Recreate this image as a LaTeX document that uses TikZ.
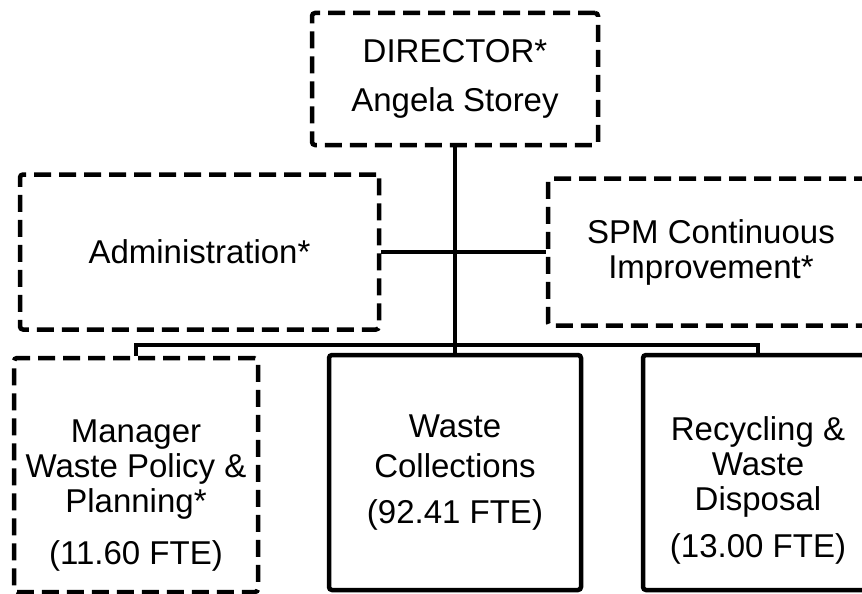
\documentclass[tikz,border=0pt]{standalone}
\usepackage{fontspec}
\setmainfont{Liberation Sans}
\usetikzlibrary{positioning}
\tikzset{
  unit/.style={
    rounded corners=3pt,
    draw=black,
    line width=4.5pt,
    align=center,
    inner sep=0pt,
    font=\fontsize{33}{35}\selectfont
  },
  dashbox/.style={
    unit,
    dash pattern=on 17pt off 8pt
  },
  link/.style={
    line width=4.5pt,
    black
  }
}

\begin{document}
\begin{tikzpicture}[x=1pt,y=-1pt]
\useasboundingbox (0,0) rectangle (862,594);
\clip (0,0) rectangle (862,594);
\node[dashbox,minimum width=286pt,minimum height=132pt] (dir) at (455,79) {DIRECTOR*\\[14pt]Angela Storey};
\node[dashbox,minimum width=359pt,minimum height=155pt] (admin) at (199.5,252) {Administration*};
\node[dashbox,minimum width=326pt,minimum height=147pt] (spm) at (711,252) {SPM Continuous\\Improvement*};
\node[dashbox,minimum width=244pt,minimum height=234pt] (mgr) at (136,475) {\rule{0pt}{64pt}Manager\\Waste Policy \&\\Planning*\\[17pt](11.60 FTE)};
\node[unit,minimum width=252pt,minimum height=235pt] (coll) at (455,472.5) {Waste\\[5pt]Collections\\[11pt](92.41 FTE)};
\node[unit,minimum width=230pt,minimum height=235pt] (rec) at (758,472.5) {\rule{0pt}{60pt}Recycling \&\\Waste\\Disposal\\[12pt](13.00 FTE)};
\coordinate (bus) at (455,345);
\draw[link] (dir.south) -- (bus);
\draw[link] (admin) -- (spm);
\draw[link] (bus) -| (mgr.north);
\draw[link] (bus) -| (rec.north);
\draw[link] (bus) -- (coll.north);
\end{tikzpicture}
\end{document}
